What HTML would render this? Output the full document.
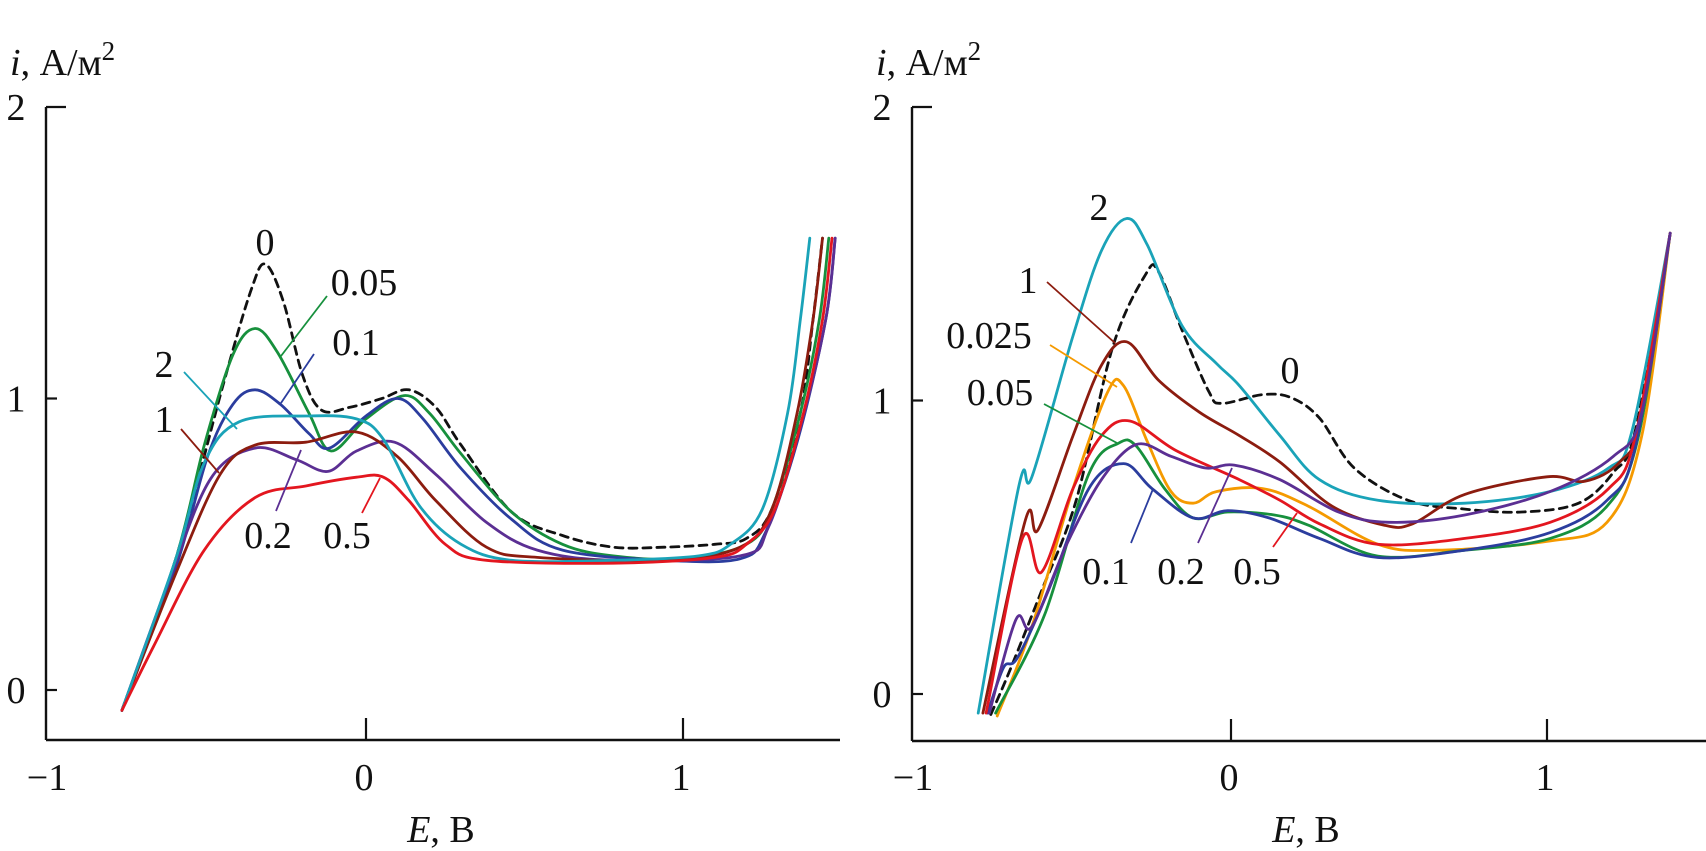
<!DOCTYPE html>
<html><head><meta charset="utf-8">
<style>
html,body{margin:0;padding:0;background:#fff;}
svg{display:block;}
text{font-family:"Liberation Serif",serif;fill:#111;}
</style></head>
<body>
<svg id="chart" width="1706" height="851" viewBox="0 0 1706 851" xmlns="http://www.w3.org/2000/svg">
<g id="left"></g>
<g id="right"></g>
</svg>
<script>
// ---- Data (E in V, i in A/m^2) ----
const xTickLabels = ["\u22121", "0", "1"];
const xTickValues = [-1, 0, 1];
const yTickLabels = ["0", "1", "2"];
const yTickValues = [0, 1, 2];

// Left panel series
const L_0 = [[-0.77,-0.07],[-0.6,0.45],[-0.45,1.05],[-0.36,1.38],[-0.316,1.46],[-0.26,1.33],[-0.2,1.08],[-0.14,0.96],[-0.05,0.97],[0.05,1.0],[0.135,1.03],[0.22,0.97],[0.30,0.84],[0.46,0.61],[0.62,0.53],[0.78,0.49],[0.94,0.49],[1.10,0.50],[1.2,0.52],[1.28,0.62],[1.37,0.95],[1.41,1.27],[1.44,1.55]];
const L_005 = [[-0.77,-0.07],[-0.6,0.45],[-0.51,0.84],[-0.42,1.15],[-0.35,1.24],[-0.28,1.16],[-0.18,0.95],[-0.11,0.82],[0.0,0.93],[0.12,1.01],[0.20,0.95],[0.30,0.81],[0.46,0.61],[0.62,0.50],[0.78,0.46],[1.0,0.45],[1.2,0.5],[1.28,0.62],[1.37,0.95],[1.43,1.27],[1.46,1.55]];
const L_01 = [[-0.77,-0.07],[-0.6,0.42],[-0.5,0.80],[-0.42,0.98],[-0.35,1.03],[-0.27,0.98],[-0.18,0.88],[-0.115,0.83],[0.0,0.94],[0.10,1.0],[0.18,0.93],[0.30,0.76],[0.46,0.585],[0.62,0.48],[0.94,0.445],[1.18,0.45],[1.26,0.54],[1.36,0.85],[1.45,1.27],[1.48,1.55]];
const L_2 = [[-0.77,-0.07],[-0.6,0.45],[-0.51,0.78],[-0.40,0.92],[-0.19,0.94],[-0.03,0.93],[0.055,0.86],[0.17,0.63],[0.30,0.50],[0.46,0.445],[0.78,0.445],[1.05,0.46],[1.15,0.5],[1.25,0.62],[1.33,0.95],[1.37,1.27],[1.40,1.55]];
const L_1 = [[-0.77,-0.07],[-0.6,0.40],[-0.46,0.74],[-0.35,0.84],[-0.19,0.85],[-0.03,0.885],[0.10,0.80],[0.22,0.65],[0.38,0.49],[0.54,0.455],[0.94,0.445],[1.18,0.49],[1.28,0.62],[1.36,0.95],[1.41,1.27],[1.44,1.55]];
const L_02 = [[-0.77,-0.07],[-0.62,0.38],[-0.49,0.725],[-0.35,0.83],[-0.22,0.79],[-0.12,0.75],[-0.03,0.82],[0.09,0.85],[0.22,0.74],[0.38,0.575],[0.54,0.48],[0.78,0.445],[1.18,0.46],[1.27,0.56],[1.37,0.9],[1.45,1.27],[1.48,1.55]];
const L_05 = [[-0.77,-0.07],[-0.67,0.15],[-0.51,0.48],[-0.35,0.66],[-0.19,0.70],[-0.03,0.73],[0.055,0.73],[0.135,0.65],[0.25,0.50],[0.38,0.445],[0.78,0.435],[1.10,0.455],[1.2,0.5],[1.29,0.62],[1.38,0.95],[1.44,1.27],[1.47,1.55]];

// Right panel series
const R_0 = [[-0.76,-0.07],[-0.70,0.08],[-0.6,0.35],[-0.49,0.66],[-0.375,1.18],[-0.27,1.43],[-0.23,1.44],[-0.155,1.24],[-0.07,1.03],[-0.03,0.99],[0.10,1.02],[0.19,1.01],[0.28,0.94],[0.39,0.77],[0.56,0.66],[0.74,0.63],[0.92,0.62],[1.10,0.65],[1.21,0.755],[1.28,0.90],[1.39,1.57]];
const R_2 = [[-0.80,-0.065],[-0.67,0.715],[-0.63,0.74],[-0.50,1.22],[-0.41,1.51],[-0.33,1.62],[-0.265,1.53],[-0.155,1.255],[-0.045,1.125],[0.027,1.05],[0.155,0.88],[0.28,0.73],[0.465,0.66],[0.74,0.65],[1.01,0.69],[1.195,0.77],[1.27,0.90],[1.39,1.57]];
const R_1 = [[-0.785,-0.065],[-0.65,0.595],[-0.61,0.56],[-0.50,0.88],[-0.41,1.12],[-0.33,1.20],[-0.23,1.07],[-0.10,0.96],[0.027,0.88],[0.155,0.79],[0.32,0.64],[0.485,0.575],[0.575,0.58],[0.74,0.68],[1.0,0.74],[1.12,0.725],[1.23,0.79],[1.30,0.94],[1.39,1.57]];
const R_0025 = [[-0.74,-0.075],[-0.63,0.23],[-0.50,0.70],[-0.39,1.03],[-0.34,1.05],[-0.265,0.86],[-0.19,0.69],[-0.12,0.65],[-0.045,0.69],[0.10,0.70],[0.245,0.64],[0.465,0.51],[0.65,0.49],[1.0,0.52],[1.19,0.585],[1.30,0.88],[1.39,1.57]];
const R_05 = [[-0.775,-0.065],[-0.66,0.53],[-0.60,0.415],[-0.50,0.70],[-0.41,0.88],[-0.32,0.93],[-0.175,0.83],[0.027,0.73],[0.155,0.66],[0.28,0.58],[0.465,0.51],[0.74,0.53],[1.01,0.585],[1.195,0.70],[1.28,0.88],[1.39,1.57]];
const R_005 = [[-0.745,-0.065],[-0.59,0.27],[-0.45,0.75],[-0.355,0.855],[-0.30,0.845],[-0.21,0.70],[-0.12,0.60],[-0.01,0.62],[0.137,0.61],[0.245,0.575],[0.465,0.47],[0.74,0.49],[1.01,0.53],[1.19,0.64],[1.29,0.88],[1.39,1.57]];
const R_01 = [[-0.77,-0.065],[-0.72,0.09],[-0.675,0.125],[-0.575,0.36],[-0.45,0.70],[-0.34,0.785],[-0.25,0.70],[-0.12,0.60],[-0.01,0.625],[0.12,0.60],[0.28,0.53],[0.465,0.465],[0.74,0.49],[1.01,0.55],[1.19,0.66],[1.28,0.845],[1.39,1.57]];
const R_02 = [[-0.765,-0.065],[-0.68,0.255],[-0.63,0.23],[-0.52,0.51],[-0.41,0.73],[-0.30,0.85],[-0.19,0.81],[-0.08,0.77],[0.01,0.78],[0.155,0.73],[0.34,0.62],[0.50,0.585],[0.74,0.61],[1.01,0.69],[1.21,0.81],[1.30,0.96],[1.39,1.57]];

const C = {cyan:"#1aa3b8", green:"#17903d", blue:"#2b3d9e", purple:"#5b2f93", brown:"#8c1c0f", red:"#e3161f", orange:"#f59a00", black:"#111"};

const NS = "http://www.w3.org/2000/svg";
const FS = 38;
function mk(tag, attrs, parent){
  const el = document.createElementNS(NS, tag);
  for (const k in attrs) el.setAttribute(k, attrs[k]);
  parent.appendChild(el);
  return el;
}
function pathFrom(pts, sx, sy){
  const P = pts.map(p => [sx(p[0]), sy(p[1])]);
  let d = "M" + P[0][0].toFixed(1) + "," + P[0][1].toFixed(1);
  for (let i = 0; i < P.length - 1; i++){
    const p0 = P[i-1] || P[i], p1 = P[i], p2 = P[i+1], p3 = P[i+2] || P[i+1];
    const c1x = p1[0] + (p2[0]-p0[0])/6, c1y = p1[1] + (p2[1]-p0[1])/6;
    const c2x = p2[0] - (p3[0]-p1[0])/6, c2y = p2[1] - (p3[1]-p1[1])/6;
    d += " C" + c1x.toFixed(1) + "," + c1y.toFixed(1) + " " + c2x.toFixed(1) + "," + c2y.toFixed(1) + " " + p2[0].toFixed(1) + "," + p2[1].toFixed(1);
  }
  return d;
}

function panel(g, cfg){
  const sx = e => cfg.x0 + (e + 1) * cfg.ux;
  const sy = v => cfg.y0 - v * cfg.uy;
  const axisX = sx(-1) - 3;
  const ya = mk("line", {x1:axisX, y1:sy(2), x2:axisX, y2:cfg.axisY, stroke:"#111", "stroke-width":2.4}, g);
  
  
  const xa = mk("line", {x1:axisX, y1:cfg.axisY, x2:cfg.xEnd, y2:cfg.axisY, stroke:"#111", "stroke-width":2.4}, g);
  
  
  yTickValues.forEach((v, k) => {
    const len = v === 2 ? 20 : 11;
    const t = mk("line", {x1:axisX, y1:sy(v), x2:axisX+len, y2:sy(v), stroke:"#111", "stroke-width":2.2}, g);
    
    
    const tl = mk("text", {x:axisX-30, y:sy(v)+13, "font-size":FS, "text-anchor":"middle"}, g);
    tl.textContent = yTickLabels[k];
    
    
  });
  xTickValues.forEach((v, k) => {
    if (v !== -1){
      const t = mk("line", {x1:sx(v), y1:cfg.axisY, x2:sx(v), y2:cfg.axisY-22, stroke:"#111", "stroke-width":2.2}, g);
      
      
    }
    const tl = mk("text", {x:sx(v)-2, y:790, "font-size":FS, "text-anchor":"middle"}, g);
    tl.textContent = xTickLabels[k];
    
    
  });
  const yt = mk("text", {x:axisX-36, y:75, "font-size":FS}, g);
  yt.innerHTML = '<tspan font-style="italic">i</tspan>, А/м<tspan dy="-15" font-size="27">2</tspan>';
  
  
  const xt = mk("text", {x:sx(0)+75, y:842, "font-size":FS, "text-anchor":"middle"}, g);
  xt.innerHTML = '<tspan font-style="italic">E</tspan>, В';
  
  

  cfg.series.forEach(s => {
    const attrs = {d:pathFrom(s.data, sx, sy), fill:"none", stroke:s.color, "stroke-width":2.8, "stroke-linejoin":"round", "stroke-linecap":"round"};
    if (s.dash) attrs["stroke-dasharray"] = "8 6";
    const p = mk("path", attrs, g);
    
    
  });
  cfg.labels.forEach(l => {
    if (l.line){
      const ln = mk("line", {x1:l.line[0], y1:l.line[1], x2:l.line[2], y2:l.line[3], stroke:l.color, "stroke-width":1.8}, g);
      
      
    }
    const t = mk("text", {x:l.x, y:l.y+13, "font-size":FS, "text-anchor":"middle"}, g);
    t.textContent = l.t;
    
    
  });
}

panel(document.getElementById("left"), {
  x0:49, ux:317, y0:690, uy:291.5, axisY:740, xEnd:840,
  series:[
    {name:"0", data:L_0, color:C.black, dash:true},
    {name:"0.05", data:L_005, color:C.green},
    {name:"0.1", data:L_01, color:C.blue},
    {name:"0.2", data:L_02, color:C.purple},
    {name:"1", data:L_1, color:C.brown},
    {name:"2", data:L_2, color:C.cyan},
    {name:"0.5", data:L_05, color:C.red}
  ],
  labels:[
    {t:"0", x:265, y:242},
    {t:"0.05", x:364, y:282, color:C.green, line:[327,296,281,356]},
    {t:"0.1", x:356, y:342, color:C.blue, line:[314,354,281,403]},
    {t:"2", x:164, y:364, color:C.cyan, line:[184,372,237,429]},
    {t:"1", x:164, y:419, color:C.brown, line:[181,429,219,473]},
    {t:"0.2", x:268, y:535, color:C.purple, line:[301,450,276,511]},
    {t:"0.5", x:347, y:535, color:C.red, line:[380,478,362,513]}
  ]
});

panel(document.getElementById("right"), {
  x0:915, ux:316, y0:694, uy:293.5, axisY:741, xEnd:1706,
  series:[
    {name:"0", data:R_0, color:C.black, dash:true},
    {name:"2", data:R_2, color:C.cyan},
    {name:"1", data:R_1, color:C.brown},
    {name:"0.025", data:R_0025, color:C.orange},
    {name:"0.05", data:R_005, color:C.green},
    {name:"0.1", data:R_01, color:C.blue},
    {name:"0.5", data:R_05, color:C.red},
    {name:"0.2", data:R_02, color:C.purple}
  ],
  labels:[
    {t:"2", x:1099, y:207},
    {t:"1", x:1028, y:280, color:C.brown, line:[1047,282,1115,343]},
    {t:"0.025", x:989, y:335, color:C.orange, line:[1050,345,1117,387]},
    {t:"0.05", x:1000, y:392, color:C.green, line:[1044,404,1117,443]},
    {t:"0", x:1290, y:370},
    {t:"0.1", x:1106, y:571, color:C.blue, line:[1131,543,1153,489]},
    {t:"0.2", x:1181, y:571, color:C.purple, line:[1198,543,1232,468]},
    {t:"0.5", x:1257, y:571, color:C.red, line:[1273,547,1297,513]}
  ]
});
</script>
</body></html>
